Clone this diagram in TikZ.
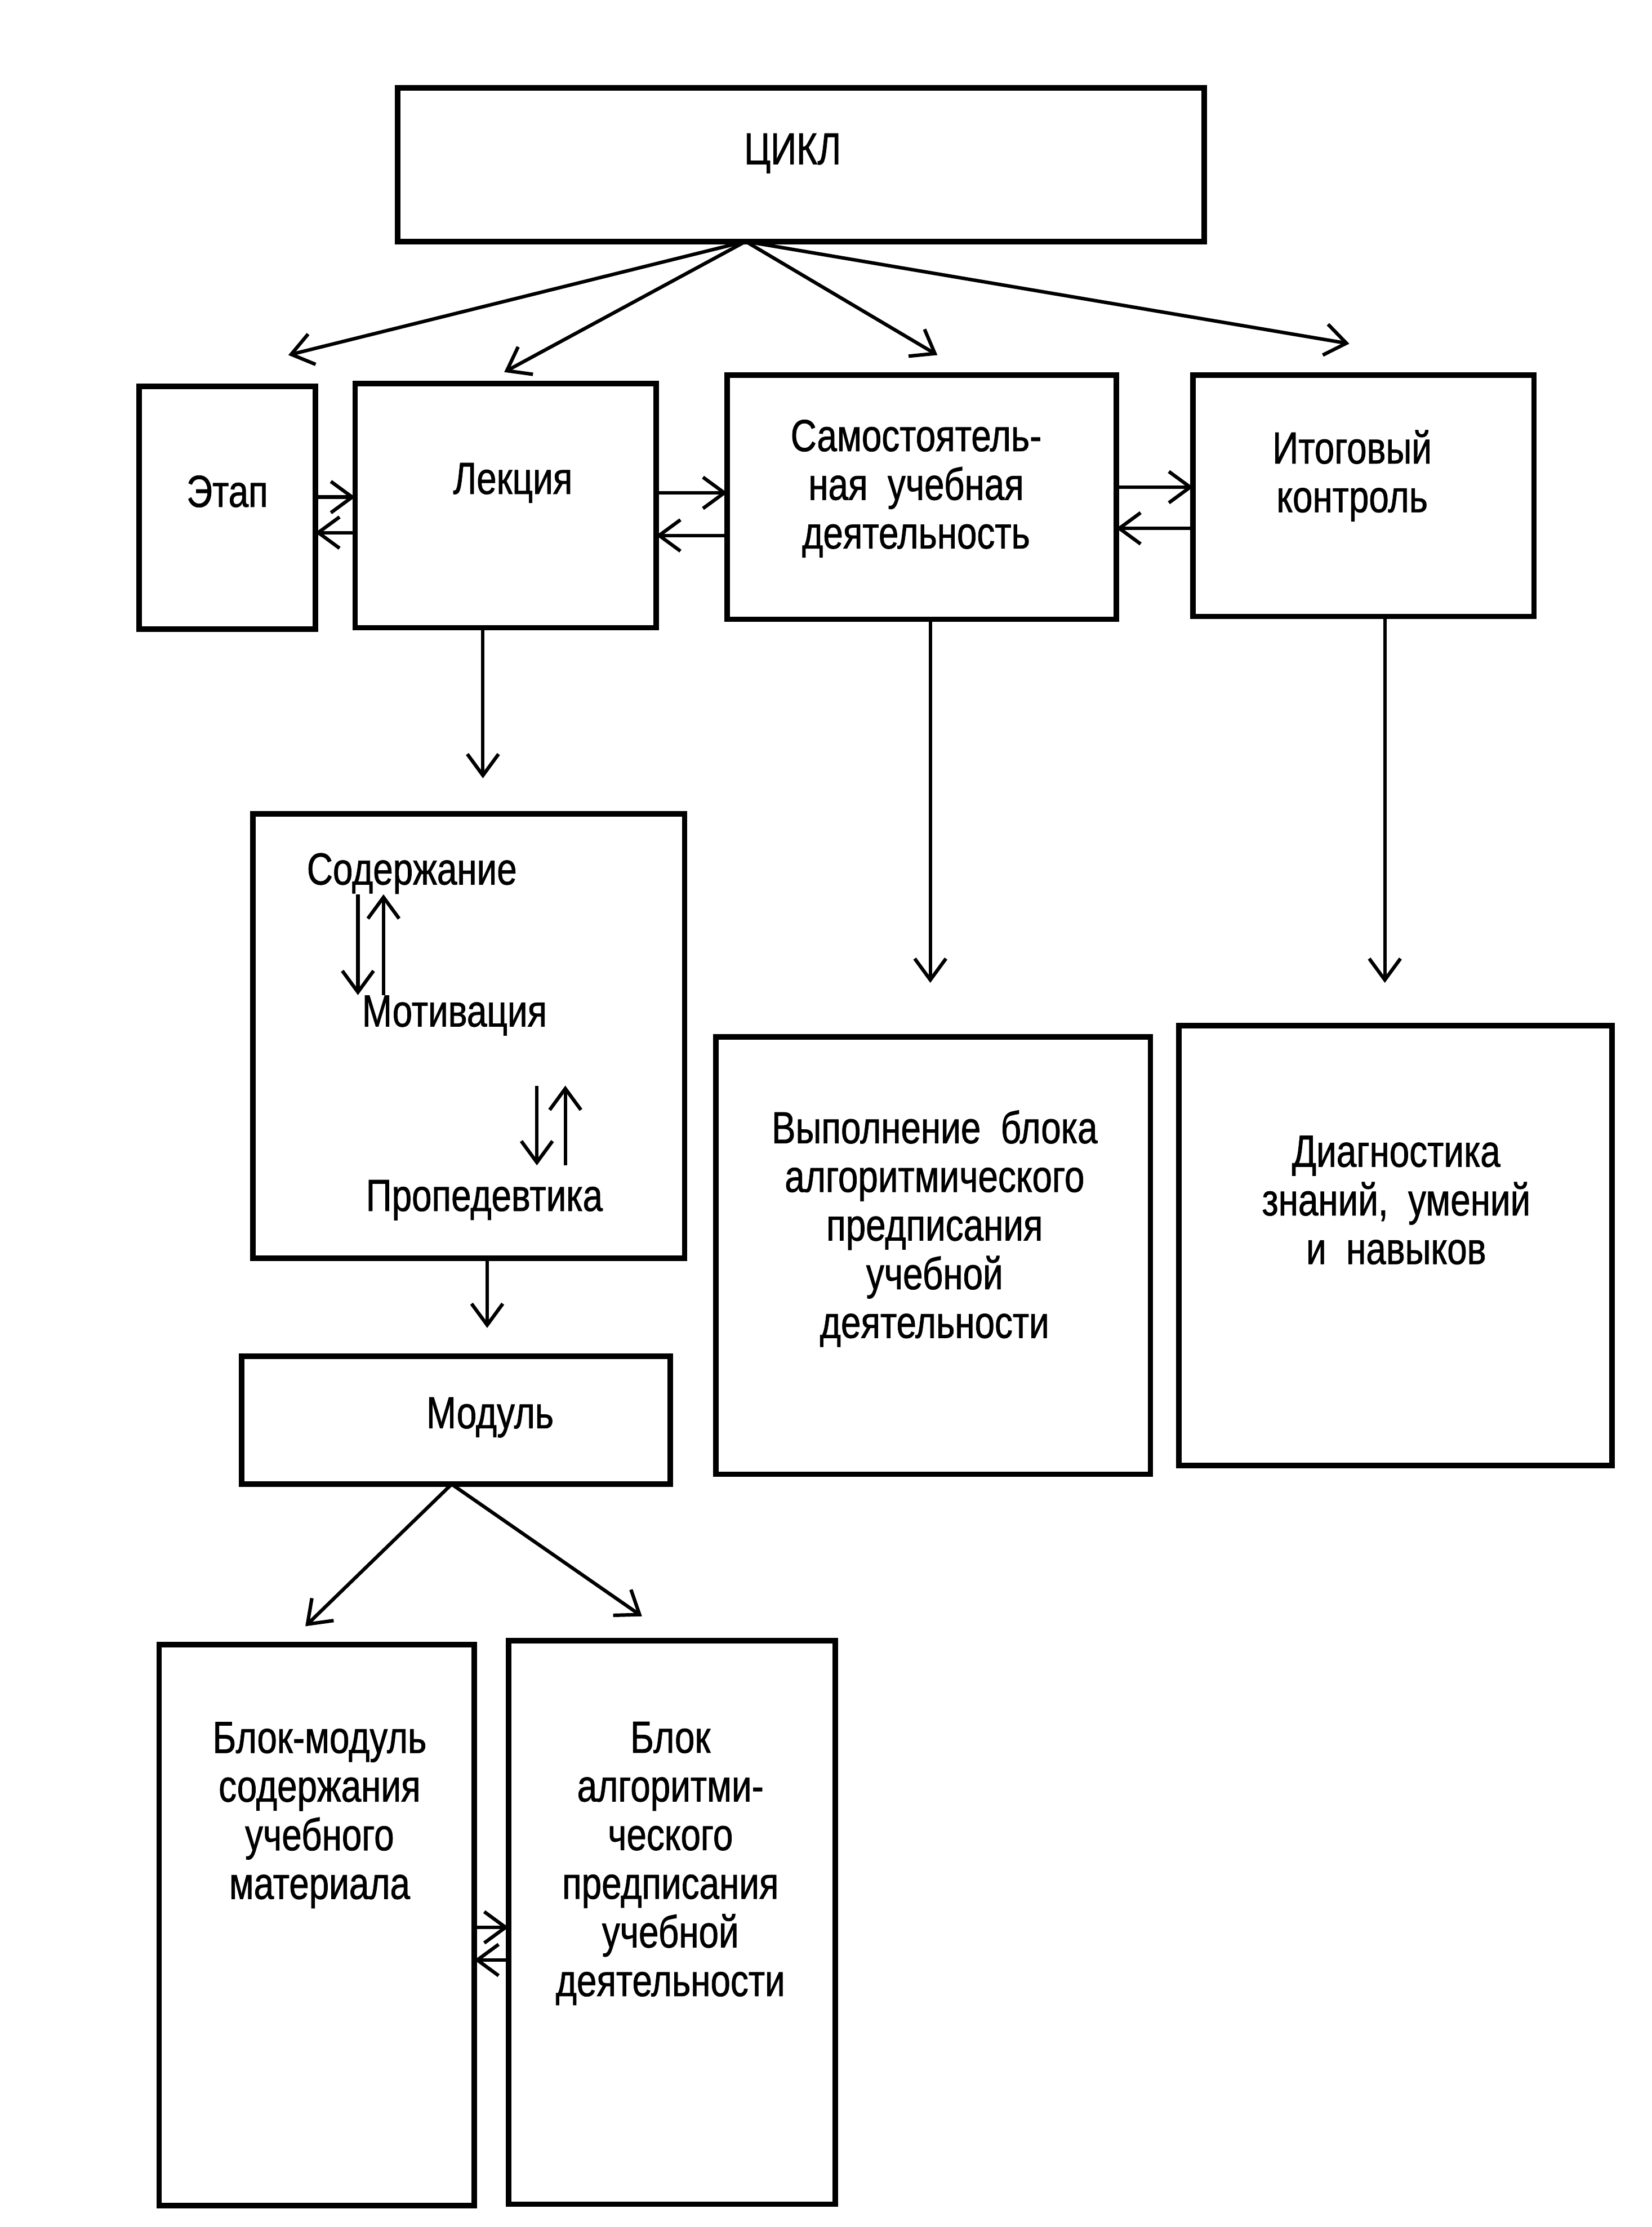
\documentclass[tikz,border=0pt]{standalone}
\usepackage{fontspec}
\setmainfont{Liberation Sans}[FakeStretch=0.8,FakeBold=1]
\usetikzlibrary{arrows.meta,calc}
\tikzset{
    block/.style = {draw, rectangle, line width=2.2pt,
        inner sep=0pt, outer sep=0pt},
    txt/.style = {align=center, inner sep=0pt,
        font=\fontsize{18}{19.5}\selectfont},
    arrow/.style = {draw, line width=1.4pt,
        -{Straight Barb[length=3mm,width=4.4mm]}}
}
\begin{document}
\begin{tikzpicture}[x=0.02cm,y=-0.02cm]
\useasboundingbox (0,0) rectangle (1163,1568);
% boxes
\node[block, minimum width=11.36cm, minimum height=2.16cm] (cycle) at (564,116) {};
\node[block, minimum width=2.48cm, minimum height=3.42cm] (etap) at (160,357.5) {};
\node[block, minimum width=4.24cm, minimum height=3.44cm] (lecture) at (356,356) {};
\node[block, minimum width=5.48cm, minimum height=3.44cm] (selfwork) at (649,350) {};
\node[block, minimum width=4.80cm, minimum height=3.40cm] (finalctl) at (960,349) {};
\node[block, minimum width=6.08cm, minimum height=6.26cm] (stages) at (330,729.5) {};
\node[block, minimum width=6.04cm, minimum height=1.80cm] (module) at (321,1000) {};
\node[block, minimum width=6.12cm, minimum height=6.16cm] (execblk) at (657,884) {};
\node[block, minimum width=6.10cm, minimum height=6.20cm] (diagblk) at (982.5,877) {};
\node[block, minimum width=4.44cm, minimum height=7.90cm] (blockmod) at (223,1355.5) {};
\node[block, minimum width=4.60cm, minimum height=7.94cm] (blockalg) at (473,1353.5) {};
% texts
\node[txt] (cycletxt) at (558,108) {ЦИКЛ};
\node[txt] (etaptxt) at (160,346) {Этап};
\node[txt] (lecturetxt) at (361,340) {Лекция};
\node[txt] (selftxt) at (645,344) {Самостоятель-\\ная~ учебная\\деятельность};
\node[txt] (finaltxt) at (952,335) {Итоговый\\контроль};
\node[txt] (cont) at (290,615) {Содержание};
\node[txt] (motiv) at (320,715) {Мотивация};
\node[txt] (proped) at (341,845) {Пропедевтика};
\node[txt] (moduletxt) at (345,998) {Модуль};
\node[txt] (exectxt) at (658,865) {Выполнение~ блока\\алгоритмического\\предписания\\учебной\\деятельности};
\node[txt] (diagtxt) at (983,845) {Диагностика\\знаний,~ умений\\и~ навыков};
\node[txt] (blockmodtxt) at (225,1278) {Блок-модуль\\содержания\\учебного\\материала};
\node[txt] (blockalgtxt) at (472,1312) {Блок\\алгоритми-\\ческого\\предписания\\учебной\\деятельности};
% connectors
\coordinate (cycfoot) at ($(cycle.south)+(-39,0)$);
\coordinate (toEtap) at (203,250);
\coordinate (toLecture) at (355,262);
\coordinate (toSelf) at (660,250);
\coordinate (toFinal) at (950,242);
\draw[arrow] (cycfoot) -- (toEtap);
\draw[arrow] (cycfoot) -- (toLecture);
\draw[arrow] (cycfoot) -- (toSelf);
\draw[arrow] (cycfoot) -- (toFinal);
\draw[arrow] (etap.east |- 0,350) -- (lecture.west |- 0,350);
\draw[arrow] (lecture.west |- 0,375) -- (etap.east |- 0,375);
\draw[arrow] (lecture.east |- 0,347) -- (selfwork.west |- 0,347);
\draw[arrow] (selfwork.west |- 0,377) -- (lecture.east |- 0,377);
\draw[arrow] (selfwork.east |- 0,343) -- (finalctl.west |- 0,343);
\draw[arrow] (finalctl.west |- 0,372) -- (selfwork.east |- 0,372);
\coordinate (lectureDown) at (340,548);
\coordinate (selfDown) at (655,692);
\coordinate (finalDown) at (975,692);
\coordinate (stagesDown) at (343,935);
\draw[arrow] (lecture.south -| 340,0) -- (lectureDown);
\draw[arrow] (selfwork.south -| 655,0) -- (selfDown);
\draw[arrow] (finalctl.south -| 975,0) -- (finalDown);
\draw[arrow] (stages.south -| 343,0) -- (stagesDown);
\draw[arrow] (cont.south -| 252,0) -- (motiv.north -| 252,0);
\draw[arrow] (motiv.north -| 270,0) -- (cont.south -| 270,0);
\draw[arrow, shorten <=0.7cm, shorten >=0.2cm] (motiv.south -| 378,0) -- (proped.north -| 378,0);
\draw[arrow, shorten <=0.2cm, shorten >=0.7cm] (proped.north -| 398,0) -- (motiv.south -| 398,0);
\coordinate (modfoot) at ($(module.south)+(-3,0)$);
\coordinate (toBlockmod) at (215,1145);
\coordinate (toBlockalg) at (452,1138);
\draw[arrow] (modfoot) -- (toBlockmod);
\draw[arrow] (modfoot) -- (toBlockalg);
\draw[arrow] (blockmod.east |- 0,1357) -- (blockalg.west |- 0,1357);
\draw[arrow] (blockalg.west |- 0,1380) -- (blockmod.east |- 0,1380);
\end{tikzpicture}
\end{document}
